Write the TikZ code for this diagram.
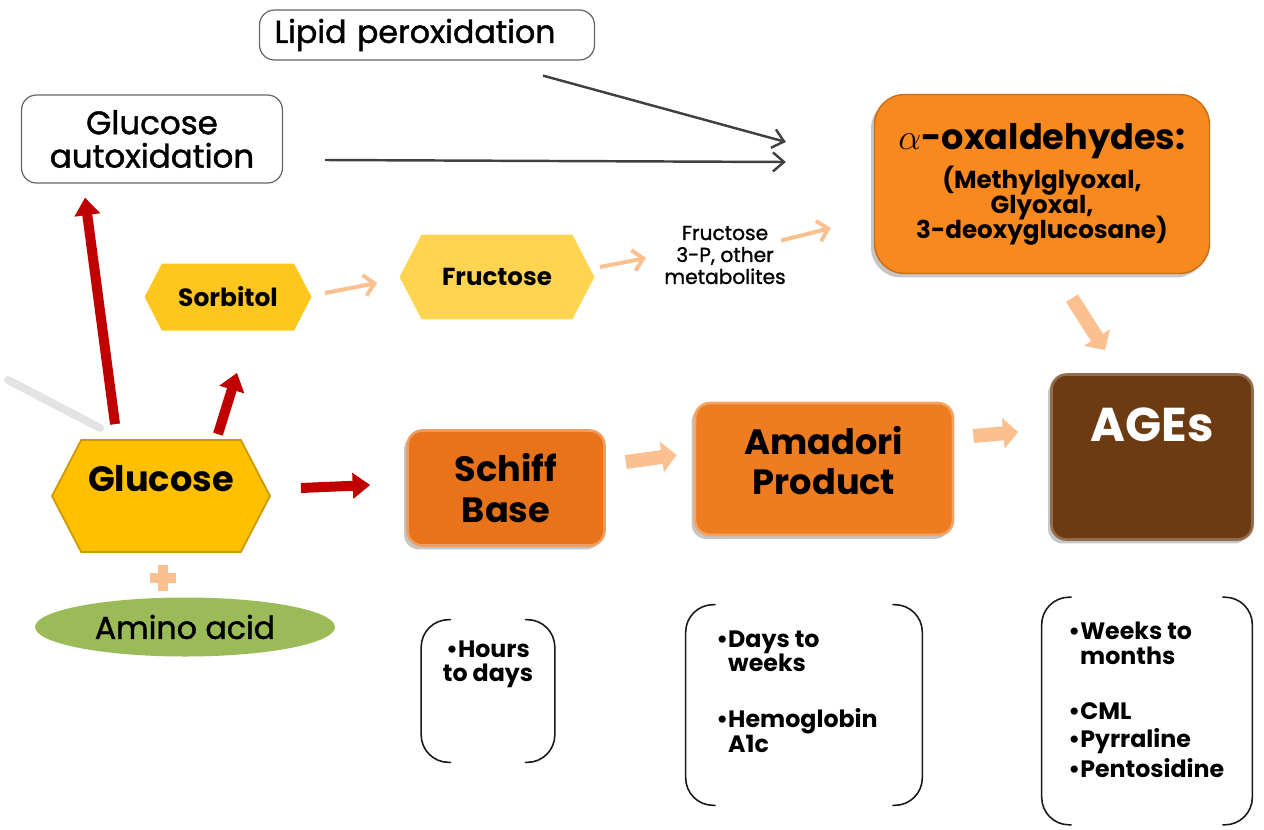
\documentclass[tikz,border=0pt]{standalone}
\usepackage{fontspec}
\setmainfont{Poppins}
\newfontfamily\medfont[FakeBold=1.3]{Poppins}
\usetikzlibrary{shapes.symbols,shapes.geometric,arrows.meta,shadows,positioning}

\definecolor{glucyellow}{HTML}{FFC000}
\definecolor{sorbyellow}{HTML}{FFC61E}
\definecolor{frucyellow}{HTML}{FFD450}
\definecolor{oxalorange}{HTML}{F7891F}
\definecolor{schifforange}{HTML}{E8731A}
\definecolor{amadoriorange}{HTML}{EE7C20}
\definecolor{agesbrown}{HTML}{6D3B12}
\definecolor{aminogreen}{HTML}{9BBB59}
\definecolor{paleorange}{HTML}{FAC090}
\definecolor{darkred}{HTML}{C00000}
\definecolor{arrowgray}{HTML}{404040}

\begin{document}
\begin{tikzpicture}[
    x=0.02cm, y=-0.02cm,
    whitebox/.style={draw=gray!80!black, fill=white, rounded corners=0.3cm,
      line width=0.7pt, align=center, font=\medfont\fontsize{18}{19}\selectfont},
    hexa/.style={signal, signal to=east and west, signal pointer angle=125,
      align=center, inner sep=0pt, font=\bfseries},
    stage/.style={rounded corners=0.3cm, align=center, inner sep=0pt,
      line width=1.5pt, font=\bfseries\fontsize{20}{23}\selectfont,
      drop shadow={shadow xshift=-0.07cm, shadow yshift=-0.08cm, opacity=0.45}},
    timebox/.style={inner sep=0pt},
    timetext/.style={anchor=north west, align=left, inner sep=0pt,
      font=\bfseries\fontsize{13.5}{14.2}\selectfont},
    brk/.style={gray!20!black, line width=0.9pt, rounded corners=0.55cm},
    redarr/.style={darkred, line width=0.2cm, -{Triangle[length=0.35cm,width=0.5cm]}},
    grayarr/.style={arrowgray, line width=1.4pt, -{Straight Barb[length=0.22cm,width=0.38cm]}},
    thinarr/.style={paleorange, line width=0.08cm, -{Straight Barb[length=0.2cm,width=0.42cm]}},
    blockarr/.style={paleorange, line width=0.28cm, -{Triangle[length=0.3cm,width=0.6cm]}}
  ]

  \useasboundingbox (0,0) rectangle (1264,829);

  % top boxes
  \node [whitebox, minimum width=6.7cm, minimum height=1cm, text width=6.1cm,
    align=left] (lipid) at (427,35) {Lipid peroxidation};
  \node [whitebox, minimum width=5.22cm, minimum height=1.76cm,
    font=\medfont\fontsize{18.5}{19}\selectfont] (autox) at (152,139)
    {Glucose\\autoxidation};

  % alpha-oxaldehydes
  \node [stage, fill=oxalorange, draw=oxalorange!80!black, line width=0.8pt,
    rounded corners=0.6cm, minimum width=6.7cm, minimum height=3.58cm,
    font=\bfseries\fontsize{14}{14.2}\selectfont,
    execute at begin node={\lineskiplimit=-20pt\relax}] (oxal) at (1042,184)
    {{\fontsize{20}{22}\selectfont $\alpha$-oxaldehydes:}\\[8pt]
     (Methylglyoxal,\\Glyoxal,\\3-deoxyglucosane)};

  % polyol branch
  \node [hexa, fill=sorbyellow, minimum width=3.34cm, minimum height=1.34cm,
    font=\bfseries\fontsize{14.2}{15}\selectfont] (sorb) at (228,297) {Sorbitol};
  \node [hexa, fill=frucyellow, minimum width=3.9cm, minimum height=1.7cm,
    font=\bfseries\fontsize{14}{16}\selectfont] (fruc) at (497,277) {Fructose};
  \node [align=center, inner sep=0pt, font=\medfont\fontsize{11.5}{12.5}\selectfont]
    (fr3p) at (725,255) {Fructose\\3-P, other\\metabolites};

  % glycation chain
  \node [hexa, fill=glucyellow, draw=glucyellow!80!black, line width=1pt,
    minimum width=4.36cm, minimum height=2.24cm, text depth=0.72cm,
    font=\bfseries\fontsize{20}{23}\selectfont] (gluc) at (161,496) {Glucose};
  \node [stage, fill=schifforange, draw=schifforange!70!white,
    minimum width=3.94cm, minimum height=2.3cm] (schiff) at (506,488)
    {Schiff\\Base};
  \node [stage, fill=amadoriorange, draw=amadoriorange!70!white,
    minimum width=5.16cm, minimum height=2.64cm, text depth=0.35cm] (amad)
    at (824,469) {Amadori\\Product};
  \node [stage, fill=agesbrown, draw=agesbrown!75!white, text=white,
    minimum width=4.02cm, minimum height=3.3cm, text depth=1.3cm,
    font=\bfseries\fontsize{27}{30}\selectfont] (ages) at (1152,457) {AGEs};

  % amino acid
  \node [ellipse, fill=aminogreen, minimum width=6cm, minimum height=1.18cm,
    inner sep=0pt, font=\medfont\fontsize{18}{20}\selectfont] (amino) at (185,627)
    {Amino acid};
  \draw [paleorange, line width=0.2cm] (150,578) -- (176,578) (163,565) -- (163,591);

  % shadow streak
  \draw [gray!22, line width=0.16cm, line cap=round] (8,380) -- (100,428);

  % arrows
  \draw [grayarr] ([xshift=2.32cm,yshift=-0.3cm]lipid.south)
    -- ([xshift=-1.76cm,yshift=0.84cm]oxal.west);
  \draw [grayarr] ([xshift=0.84cm,yshift=-0.42cm]autox.east)
    -- ([xshift=-1.76cm,yshift=0.44cm]oxal.west);

  \draw [redarr] ([xshift=-0.92cm,yshift=0.3cm]gluc.north)
    -- ([xshift=-1.34cm,yshift=-0.28cm]autox.south);
  \draw [redarr] ([xshift=1.14cm,yshift=0.1cm]gluc.north)
    -- ([xshift=0.18cm,yshift=-0.84cm]sorb.south);
  \draw [redarr] ([xshift=0.6cm,yshift=0.16cm]gluc.east)
    -- ([xshift=-0.72cm,yshift=0.06cm]schiff.west);

  \draw [thinarr] ([xshift=0.26cm,yshift=0.08cm]sorb.east)
    -- ([xshift=-0.44cm,yshift=-0.12cm]fruc.west);
  \draw [thinarr] ([xshift=0.1cm,yshift=0.2cm]fruc.east)
    -- ([xshift=-0.36cm,yshift=-0.06cm]fr3p.west);
  \draw [thinarr] ([xshift=-0.1cm,yshift=-0.3cm]fr3p.north east)
    -- ([xshift=-0.86cm,yshift=-0.88cm]oxal.west);

  \draw [blockarr] ([xshift=0.4cm,yshift=0.52cm]schiff.east)
    -- ([xshift=-0.34cm,yshift=0.28cm]amad.west);
  \draw [blockarr] ([xshift=0.38cm,yshift=0.66cm]amad.east)
    -- ([xshift=-0.64cm,yshift=0.5cm]ages.west);
  \draw [blockarr] ([xshift=0.6cm,yshift=-0.48cm]oxal.south)
    -- ([xshift=-0.94cm,yshift=0.46cm]ages.north);

  % time brackets
  \node [timebox, minimum width=2.66cm, minimum height=2.84cm] (hrs) at (488,691) {};
  \node [timebox, minimum width=4.72cm, minimum height=4cm] (days) at (804,705) {};
  \node [timebox, minimum width=4.2cm, minimum height=4.54cm] (weeks) at (1147,711) {};

  \foreach \b in {hrs,days,weeks}{
    \draw [brk] ([xshift=0.6cm]\b.north west) -- (\b.north west)
      -- (\b.south west) -- ([xshift=0.6cm]\b.south west);
    \draw [brk] ([xshift=-0.6cm]\b.north east) -- (\b.north east)
      -- (\b.south east) -- ([xshift=-0.6cm]\b.south east);
  }

  \node [timetext, align=center, anchor=north] (hrstext) at (488,640)
    {\textbullet Hours\\to days};
  \node [timetext] (daystext) at (716,630)
    {\textbullet Days to\\\phantom{\textbullet}weeks\\[0.62cm]
     \textbullet Hemoglobin\\\phantom{\textbullet}A1c};
  \node [timetext] (weekstext) at (1068,622)
    {\textbullet Weeks to\\\phantom{\textbullet}months\\[0.6cm]
     \textbullet CML\\[1.5pt]\textbullet Pyrraline\\[1.5pt]\textbullet Pentosidine};
\end{tikzpicture}
\end{document}
